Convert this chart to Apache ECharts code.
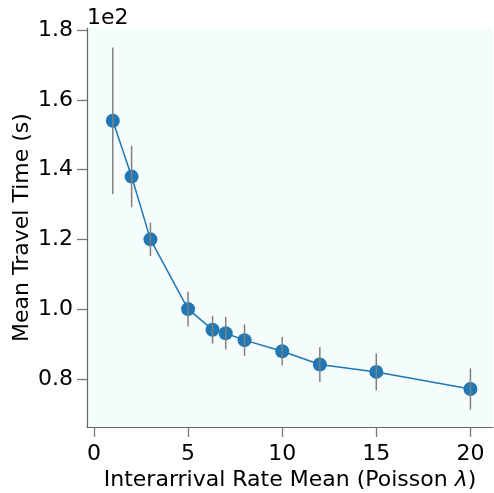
<!DOCTYPE html>
<html>
<head>
<meta charset="utf-8">
<script src="https://cdn.jsdelivr.net/npm/echarts@6/dist/echarts.min.js"></script>
<style>
  html, body { margin: 0; padding: 0; background: #fff; }
  #chart { width: 494px; height: 493px; }
</style>
</head>
<body>
<div id="chart"></div>
<script>
// Datos
const rates = [1, 2, 3, 5, 6.3, 7, 8, 10, 12, 15, 20];
const travelTime = [154, 138, 120, 100, 94.1, 93.1, 91.1, 87.9, 84.1, 82, 77.1];
const travelErr = [21, 8.8, 4.8, 5, 4, 4.7, 4.5, 4.1, 5, 5.3, 5.9];
const xTicks = [0, 5, 10, 15, 20];
const yTicks = [80, 100, 120, 140, 160, 180];

const font = 'DejaVu Sans';
const axisGrey = '#666';

var chart = echarts.init(document.getElementById('chart'));

var lineData = rates.map((x, i) => [x, travelTime[i]]);
var errData = rates.map((x, i) => [x, travelTime[i] - travelErr[i], travelTime[i] + travelErr[i]]);

var option = {
    animation: false,
    grid: {
        left: 87, right: 1, top: 28, bottom: 66,
        outerBoundsMode: 'none',
        containLabel: false,
        show: true,
        backgroundColor: '#f5fcfc',
        borderWidth: 0
    },
    graphic: [{
        type: 'text',
        left: 87,
        top: 7,
        style: { text: '1e2', font: '22px "DejaVu Sans"', fill: '#000' }
    }],
    xAxis: {
        type: 'value',
        min: -0.37,
        max: 21.2,
        name: '{n|Interarrival Rate Mean (Poisson }{i|λ}{n|)}',
        nameLocation: 'middle',
        nameGap: 42,
        nameMoveOverlap: false,
        nameTextStyle: {
            fontFamily: font, fontSize: 22, color: '#000',
            rich: {
                n: { fontFamily: font, fontSize: 22, color: '#000' },
                i: { fontFamily: font, fontSize: 22, color: '#000', fontStyle: 'italic' }
            }
        },
        axisLine: { show: true, onZero: false, lineStyle: { color: axisGrey, width: 1.2 } },
        axisTick: { show: true, length: 10, customValues: xTicks, lineStyle: { color: '#777', width: 1.3 } },
        axisLabel: {
            customValues: xTicks,
            margin: 16,
            fontFamily: font, fontSize: 22, color: '#000'
        },
        splitLine: { show: false }
    },
    yAxis: {
        type: 'value',
        min: 66.2,
        max: 180.6,
        name: 'Mean Travel Time (s)',
        nameLocation: 'middle',
        nameGap: 54,
        nameMoveOverlap: false,
        nameTextStyle: { fontFamily: font, fontSize: 22, color: '#000' },
        axisLine: { show: true, onZero: false, lineStyle: { color: axisGrey, width: 1.2 } },
        axisTick: { show: true, length: 10, customValues: yTicks, lineStyle: { color: '#777', width: 1.3 } },
        axisLabel: {
            customValues: yTicks,
            margin: 14,
            formatter: v => (v / 100).toFixed(1),
            fontFamily: font, fontSize: 22, color: '#000'
        },
        splitLine: { show: false }
    },
    series: [{
        type: 'line',
        data: lineData,
        symbol: 'circle',
        symbolSize: 14,
        itemStyle: { color: '#1f77b4' },
        lineStyle: { color: '#1f77b4', width: 1.5 },
        z: 2
    }, {
        type: 'custom',
        data: errData,
        z: 3,
        renderItem: function (params, api) {
            var lo = api.coord([api.value(0), api.value(1)]);
            var hi = api.coord([api.value(0), api.value(2)]);
            return {
                type: 'line',
                shape: { x1: lo[0], y1: lo[1], x2: hi[0], y2: hi[1] },
                style: { stroke: '#808080', lineWidth: 1.5 }
            };
        }
    }]
};
chart.setOption(option);
</script>
</body>
</html>
